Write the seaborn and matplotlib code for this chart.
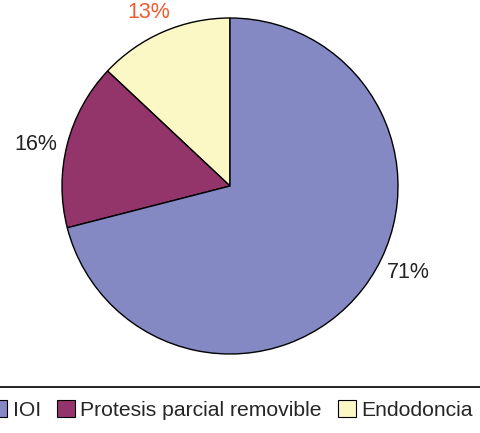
import matplotlib
matplotlib.use('Agg')
import matplotlib.pyplot as plt
import seaborn as sns
import numpy as np
from matplotlib.patches import Patch
from matplotlib.lines import Line2D

# data (pie drawn counter-clockwise from 12 o'clock)
categories = ['Endodoncia', 'Protesis parcial removible', 'IOI']
values = [13, 16, 71]
colors = ['#FCF8C6', '#93346B', '#8489C4']
label_colors = ['#F05A30', '#222222', '#222222']
legend_order = ['IOI', 'Protesis parcial removible', 'Endodoncia']

sns.set_theme(style='white')
plt.rcParams['font.family'] = ['Liberation Sans', 'DejaVu Sans']

fig = plt.figure(figsize=(4.81, 4.33), dpi=100)
ax = fig.add_axes([0, 0, 1, 1])

wedges, texts, autotexts = ax.pie(
    values, colors=colors, startangle=90, counterclock=True,
    autopct='%d%%', pctdistance=1.16,
    wedgeprops=dict(edgecolor='black', linewidth=1.0),
    textprops=dict(fontsize=15.5),
)
for t, c in zip(autotexts, label_colors):
    t.set_color(c)

# nudge labels to where they sit in the original
for t, (a, rr) in zip(autotexts, [(115, 1.14), (168, 1.18), (-26, 1.18)]):
    a = np.deg2rad(a)
    t.set_position((rr * np.cos(a), rr * np.sin(a)))

r = 168
ax.set_xlim(-230 / r, (481 - 230) / r)
ax.set_ylim(-(433 - 186) / r, 186 / r)
ax.set_aspect('equal')
ax.axis('off')

# legend
color_of = dict(zip(categories, colors))
handles = [Patch(facecolor=color_of[c], edgecolor='black', linewidth=0.8) for c in legend_order]
fig.legend(handles, legend_order, loc='center', bbox_to_anchor=(0.48, 0.053),
           ncol=3, frameon=False, fontsize=15.2, handlelength=0.85, handleheight=0.85,
           handletextpad=0.27, columnspacing=0.75)
fig.add_artist(Line2D([0, 1], [1 - 387 / 433] * 2, transform=fig.transFigure,
                      color='black', linewidth=1.2))

fig.savefig('out.png', dpi=100)
